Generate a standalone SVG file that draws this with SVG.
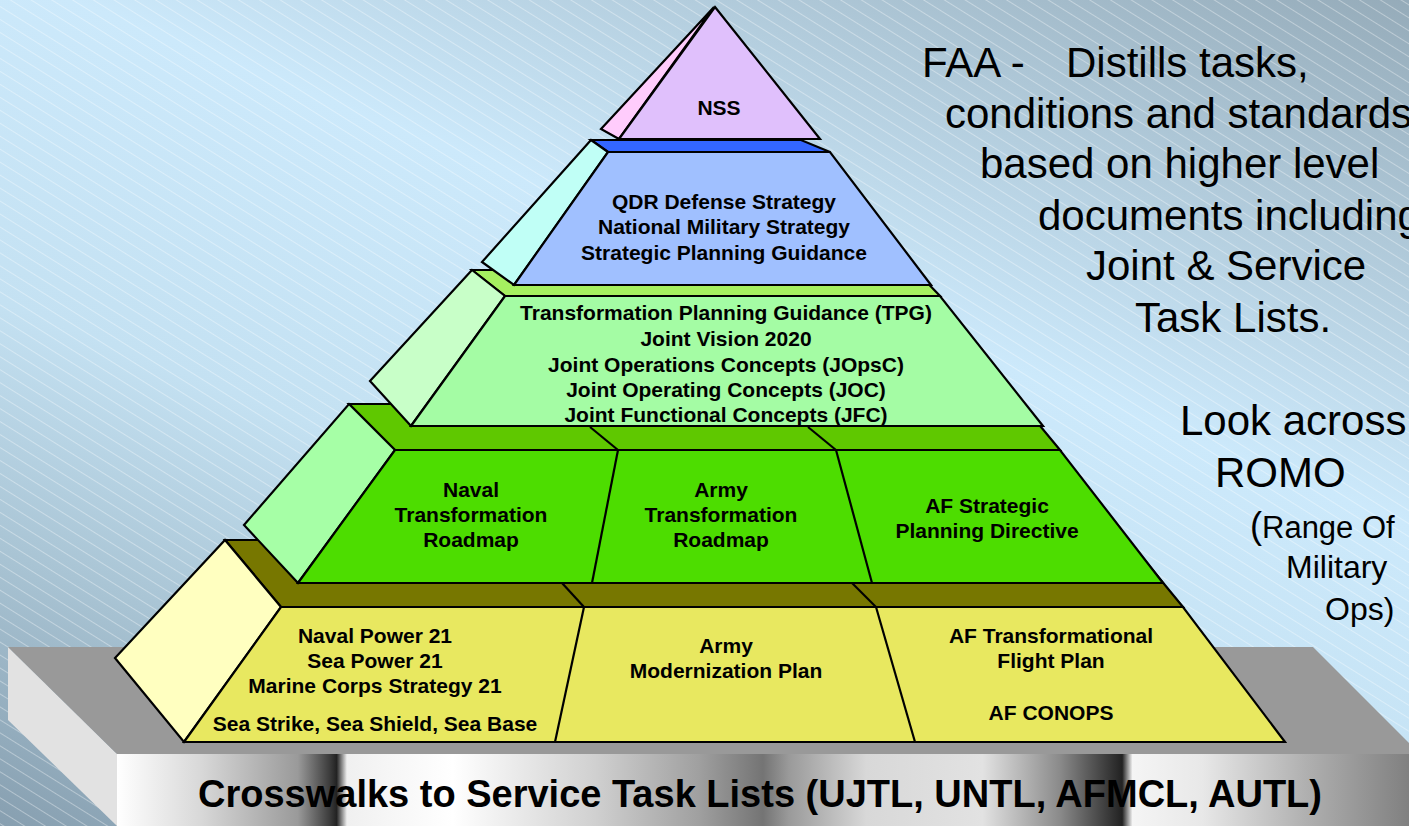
<svg xmlns="http://www.w3.org/2000/svg" width="1409" height="826" viewBox="0 0 1409 826">
<defs>
<style>
.ol{stroke:#000;stroke-width:2.2;stroke-linejoin:miter}
.dv{stroke:#000;stroke-width:2.2;fill:none}
.lbl{font-family:"Liberation Sans",Arial,sans-serif;font-weight:bold;font-size:21px;text-anchor:middle;fill:#000}
.note{font-family:"Liberation Sans",Arial,sans-serif;font-size:42px;fill:#000}
.small{font-family:"Liberation Sans",Arial,sans-serif;font-size:32px;fill:#000}
</style>
<linearGradient id="bg" gradientUnits="userSpaceOnUse" x1="891" y1="-203" x2="424" y2="991">
<stop offset="0" stop-color="#95abb9"/>
<stop offset="0.38" stop-color="#cce9fb"/>
<stop offset="0.62" stop-color="#c4e1f2"/>
<stop offset="0.8" stop-color="#a9c4d4"/>
<stop offset="1" stop-color="#879fb0"/>
</linearGradient>
<pattern id="stripes" width="12" height="11" patternUnits="userSpaceOnUse" patternTransform="rotate(32)">
<line x1="0" y1="5.5" x2="12" y2="5.5" stroke="#ffffff" stroke-width="0.8" stroke-opacity="0.45"/>
</pattern>
<linearGradient id="metal" gradientUnits="userSpaceOnUse" x1="117" y1="0" x2="1409" y2="0">
<stop offset="0" stop-color="#ffffff"/>
<stop offset="0.065" stop-color="#d8d8d8"/>
<stop offset="0.14" stop-color="#9a9a9a"/>
<stop offset="0.165" stop-color="#3a3a3a"/>
<stop offset="0.17" stop-color="#222222"/>
<stop offset="0.178" stop-color="#f0f0f0"/>
<stop offset="0.26" stop-color="#ffffff"/>
<stop offset="0.37" stop-color="#d0d0d0"/>
<stop offset="0.45" stop-color="#a0a0a0"/>
<stop offset="0.5" stop-color="#747474"/>
<stop offset="0.52" stop-color="#9a9a9a"/>
<stop offset="0.58" stop-color="#d8d8d8"/>
<stop offset="0.67" stop-color="#e2e2e2"/>
<stop offset="0.73" stop-color="#8a8a8a"/>
<stop offset="0.778" stop-color="#222222"/>
<stop offset="0.786" stop-color="#f5f5f5"/>
<stop offset="0.84" stop-color="#e8e8e8"/>
<stop offset="0.92" stop-color="#b0b0b0"/>
<stop offset="1" stop-color="#808080"/>
</linearGradient>
</defs>

<g id="background">
<rect x="0" y="0" width="1409" height="826" fill="url(#bg)"/>
<rect x="0" y="0" width="1409" height="826" fill="url(#stripes)"/>
</g>

<g id="base">
<polygon points="8,647 117,754 117,826 8,720" fill="#e2e2e2"/>
<polygon points="8,647 1313,647 1409,743 1409,754 117,754" fill="#999999"/>
<rect x="117" y="754" width="1292" height="72" fill="url(#metal)"/>
<text x="760" y="807" style="font-family:'Liberation Sans',Arial,sans-serif;font-weight:bold;font-size:38px;text-anchor:middle;fill:#000">Crosswalks to Service Task Lists (UJTL, UNTL, AFMCL, AUTL)</text>
</g>

<g id="tier-service-plans">
<polygon class="ol" points="225,540 1128,540 1183,607 281,607" fill="#777700"/>
<line class="dv" x1="562" y1="583" x2="584" y2="607"/>
<line class="dv" x1="852" y1="583" x2="876" y2="607"/>
<polygon class="ol" points="225,540 281,607 184,742 115,658" fill="#ffffc0"/>
<polygon class="ol" points="281,607 1183,607 1285,742 184,742" fill="#e8e860"/>
<line class="dv" x1="584" y1="607" x2="555" y2="742"/>
<line class="dv" x1="876" y1="607" x2="915" y2="742"/>
<text class="lbl" x="375" y="643">Naval Power 21</text>
<text class="lbl" x="375" y="668">Sea Power 21</text>
<text class="lbl" x="375" y="693">Marine Corps Strategy 21</text>
<text class="lbl" x="375" y="731">Sea Strike, Sea Shield, Sea Base</text>
<text class="lbl" x="726" y="653">Army</text>
<text class="lbl" x="726" y="678">Modernization Plan</text>
<text class="lbl" x="1051" y="643">AF Transformational</text>
<text class="lbl" x="1051" y="668">Flight Plan</text>
<text class="lbl" x="1051" y="720">AF CONOPS</text>
</g>

<g id="tier-service-roadmaps">
<polygon class="ol" points="349,404 1022,404 1060,450 395,450" fill="#5fc800"/>
<line class="dv" x1="590" y1="427" x2="618" y2="450"/>
<line class="dv" x1="808" y1="427" x2="836" y2="450"/>
<polygon class="ol" points="349,404 395,450 298,583 244,525" fill="#a6ffa6"/>
<polygon class="ol" points="395,450 1060,450 1163,583 298,583" fill="#4ddd00"/>
<line class="dv" x1="618" y1="450" x2="592" y2="583"/>
<line class="dv" x1="836" y1="450" x2="872" y2="583"/>
<text class="lbl" x="471" y="497">Naval</text>
<text class="lbl" x="471" y="522">Transformation</text>
<text class="lbl" x="471" y="547">Roadmap</text>
<text class="lbl" x="721" y="497">Army</text>
<text class="lbl" x="721" y="522">Transformation</text>
<text class="lbl" x="721" y="547">Roadmap</text>
<text class="lbl" x="987" y="513">AF Strategic</text>
<text class="lbl" x="987" y="538">Planning Directive</text>
</g>

<g id="tier-joint">
<polygon class="ol" points="472,270 915,270 940,296 505,296" fill="#a6f060"/>
<polygon class="ol" points="472,270 505,296 411,426 370,381" fill="#c8ffc8"/>
<polygon class="ol" points="505,296 940,296 1043,426 411,426" fill="#a4fca4"/>
<text class="lbl" x="726" y="320">Transformation Planning Guidance (TPG)</text>
<text class="lbl" x="726" y="346">Joint Vision 2020</text>
<text class="lbl" x="726" y="372">Joint Operations Concepts (JOpsC)</text>
<text class="lbl" x="726" y="397">Joint Operating Concepts (JOC)</text>
<text class="lbl" x="726" y="422">Joint Functional Concepts (JFC)</text>
</g>

<g id="tier-defense">
<polygon class="ol" points="591,140 801,140 830,152 608,152" fill="#3366ff"/>
<polygon class="ol" points="591,140 608,152 514,285 482,262" fill="#c0fff6"/>
<polygon class="ol" points="608,152 830,152 931,285 514,285" fill="#a0c0ff"/>
<text class="lbl" x="724" y="209">QDR Defense Strategy</text>
<text class="lbl" x="724" y="234">National Military Strategy</text>
<text class="lbl" x="724" y="260">Strategic Planning Guidance</text>
</g>

<g id="tier-nss">
<polygon class="ol" points="714,7 601,129 619,139" fill="#ffccfc"/>
<polygon class="ol" points="715,7 820,139 619,139" fill="#e0c0fc"/>
<text class="lbl" x="719" y="115">NSS</text>
</g>

<g id="note-faa">
<text class="note" x="922" y="77">FAA -</text>
<text class="note" x="1066" y="77">Distills tasks,</text>
<text class="note" x="945" y="128">conditions and standards</text>
<text class="note" x="980" y="178">based on higher level</text>
<text class="note" x="1038" y="230">documents including</text>
<text class="note" x="1086" y="280">Joint &amp; Service</text>
<text class="note" x="1135" y="332">Task Lists.</text>
</g>

<g id="note-romo">
<text class="note" x="1180" y="435">Look across</text>
<text class="note" x="1215" y="487">ROMO</text>
<text class="small" x="1250" y="538"><tspan font-size="36">(</tspan><tspan font-size="31">Range Of</tspan></text>
<text class="small" x="1286" y="578">Military</text>
<text class="small" x="1325" y="620">Ops)</text>
</g>
</svg>
